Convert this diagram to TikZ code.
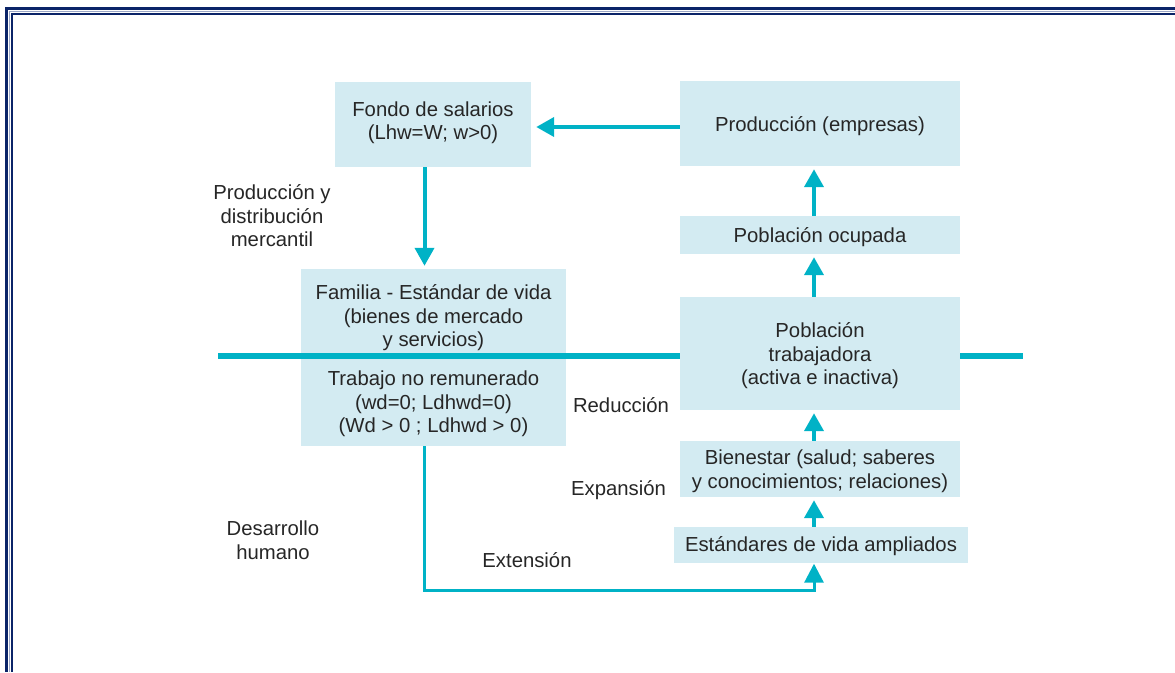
\documentclass[tikz,border=0pt]{standalone}
\usepackage{fontspec}
\setmainfont{Liberation Sans}
\usetikzlibrary{arrows.meta,calc}
\definecolor{boxfill}{HTML}{D3EBF2}
\definecolor{teal}{HTML}{00B2C6}
\definecolor{txt}{HTML}{262626}
\definecolor{navy}{HTML}{0B2468}
\definecolor{midline}{HTML}{9AA6C6}
\tikzset{
  box/.style={rectangle, fill=boxfill, inner sep=0pt},
  lbl/.style={align=center, text=txt, inner sep=0pt, font=\fontsize{20.3}{23.5}\selectfont},
  arr/.style={teal, line width=4pt, -{Triangle[width=19pt,length=18pt]}, shorten >=3pt},
  loopline/.style={teal, line width=3pt},
}
\begin{document}
\begin{tikzpicture}[x=1pt,y=-1pt]
\useasboundingbox (0,0) rectangle (1175,672);
% border
\fill[navy] (5,7) rectangle (1175,9.5);
\fill[navy] (5,7) rectangle (7.5,672);
\fill[midline] (8.5,10.5) rectangle (1175,11.5);
\fill[midline] (8.5,10.5) rectangle (9.3,672);
\fill[navy] (10.5,12.5) rectangle (1175,15);
\fill[navy] (10.5,12.5) rectangle (12.8,672);

% boxes
\node[box, minimum width=196pt, minimum height=85pt] (fondo) at (433,124.5) {};
\node[box, minimum width=280pt, minimum height=85pt] (prod) at (820,123.5) {};
\node[box, minimum width=280pt, minimum height=38pt] (po) at (820,235) {};
\node[box, minimum width=280pt, minimum height=113pt] (pt) at (820,353.5) {};
\node[box, minimum width=280pt, minimum height=56pt] (bien) at (820,469) {};
\node[box, minimum width=294pt, minimum height=36pt] (est) at (821,545) {};
\node[box, minimum width=265pt, minimum height=177pt] (fam) at (433.5,357.5) {};

% box texts
\node[lbl] (fondotxt) at ($(fondo.center)+(0,-2)$) {Fondo de salarios\\(Lhw=W; w>0)};
\node[lbl] (prodtxt) at ($(prod.center)+(0,2.5)$) {Producción (empresas)};
\node[lbl] (potxt) at ($(po.center)+(0,2.5)$) {Población ocupada};
\node[lbl] (pttxt) at ($(pt.center)+(0,2.5)$) {Población\\trabajadora\\(activa e inactiva)};
\node[lbl] (bientxt) at ($(bien.center)+(0,2)$) {Bienestar (salud; saberes\\y conocimientos; relaciones)};
\node[lbl] (esttxt) at ($(est.center)+(0,1)$) {Estándares de vida ampliados};
\node[lbl] (famtxt) at (433.5,318) {Familia - Estándar de vida\\(bienes de mercado\\y servicios)};
\node[lbl] (trab) at (433.5,404) {Trabajo no remunerado\\(wd=0; Ldhwd=0)\\(Wd > 0 ; Ldhwd > 0)};

% horizontal divider
\coordinate (hl) at (218,356);
\coordinate (hr) at (1023,356);
\draw[teal, line width=6pt] (hl) -- (pt.west |- hl);
\draw[teal, line width=6pt] (pt.east |- hr) -- (hr);

% labels
\node[lbl] (pdm) at (272,216) {Producción y\\distribución\\mercantil};
\node[lbl] (red) at (621,405) {Reducción};
\node[lbl] (exp) at (618.5,490) {Expansión};
\node[lbl] (dh) at (273,540) {Desarrollo\\humano};
\node[lbl] (ext) at (527,560) {Extensión};

% arrows
\coordinate (ax) at (424.5,0);
\coordinate (rx) at (814,0);
\coordinate (lp) at (0,590.5);
\draw[arr] (prod.west |- 0,127) -- ($(fondo.east |- 0,127)+(2,0)$);
\draw[arr] (fondo.south -| ax) -- (fam.north -| ax);
\draw[arr] (po.north -| rx) -- (prod.south -| rx);
\draw[arr] (pt.north -| rx) -- (po.south -| rx);
\draw[arr] (bien.north -| rx) -- (pt.south -| rx);
\draw[arr] (est.north -| rx) -- (bien.south -| rx);
\draw[loopline, -{Triangle[width=19pt,length=19pt]}, shorten >=0.5pt] (fam.south -| ax) -- (ax |- lp) -- (rx |- lp) -- (est.south -| rx);
\end{tikzpicture}
\end{document}
